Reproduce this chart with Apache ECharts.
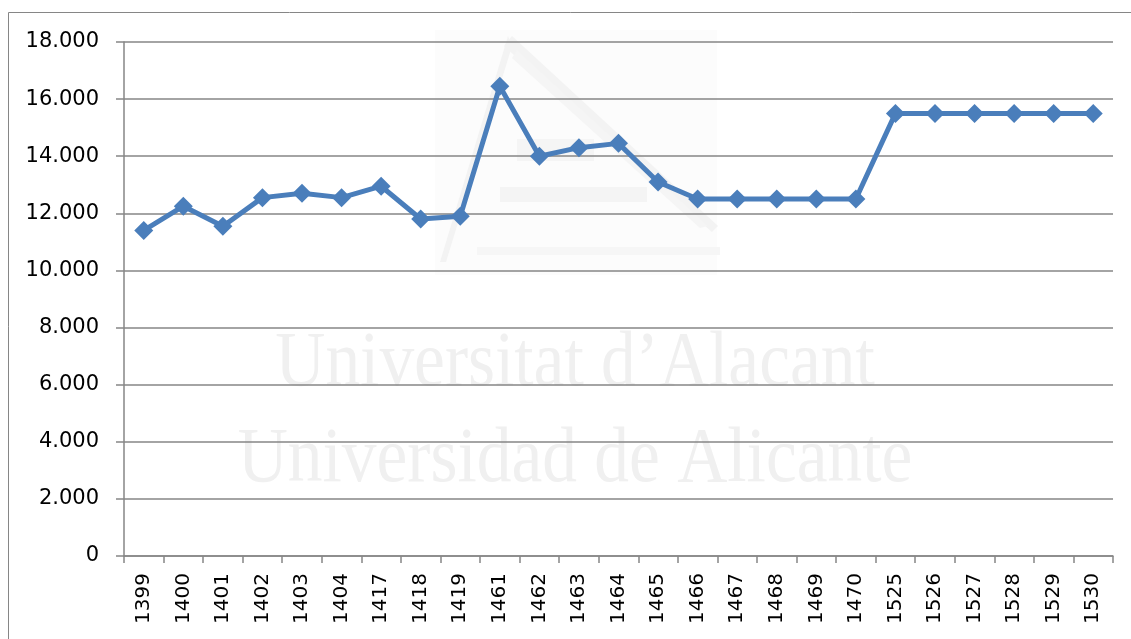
<!DOCTYPE html>
<html>
<head>
<meta charset="utf-8">
<script src="https://cdn.jsdelivr.net/npm/echarts@6/dist/echarts.min.js"></script>
<style>
  html, body { margin: 0; padding: 0; background: #fff; }
  #chart { width: 1131px; height: 639px; }
</style>
</head>
<body>
<div id="chart"></div>
<script>
// 年份
const years = ['1399', '1400', '1401', '1402', '1403', '1404', '1417', '1418', '1419', '1461',
  '1462', '1463', '1464', '1465', '1466', '1467', '1468', '1469', '1470', '1525',
  '1526', '1527', '1528', '1529', '1530'];
// 数值
const values = [11400, 12250, 11550, 12550, 12700, 12550, 12950, 11800, 11900, 16450,
  14000, 14300, 14450, 13100, 12500, 12500, 12500, 12500, 12500, 15500,
  15500, 15500, 15500, 15500, 15500];
// 纵轴
const yMin = 0;
const yMax = 18000;
const yStep = 2000;

// 千位分隔 (西班牙格式)
function fmt(v) {
  return String(v).replace(/\B(?=(\d{3})+(?!\d))/g, '.');
}

// 水印文字
function mark(text, y) {
  return {
    type: 'group', x: 575, y: y, scaleX: 0.89, z: -7,
    children: [{
      type: 'text', x: 0, y: 0,
      style: { text: text, font: '78px "Liberation Serif"', fill: '#f0f0f0',
        align: 'center', verticalAlign: 'bottom' }
    }]
  };
}

const chart = echarts.init(document.getElementById('chart'));
const gray = '#868686';

chart.setOption({
  animation: false,
  backgroundColor: '#fff',
  graphic: [
    // 外框
    { type: 'rect', z: -10, shape: { x: 8.5, y: 12.5, width: 1300, height: 800 },
      style: { fill: 'none', stroke: gray, lineWidth: 1 } },
    // 水印标志
    { type: 'rect', z: -9, shape: { x: 435, y: 30, width: 282, height: 245 },
      style: { fill: '#fcfcfc' } },
    { type: 'polygon', z: -8, shape: { points: [[508, 36], [440, 262], [446, 262], [512, 46]] },
      style: { fill: '#f3f3f3' } },
    { type: 'polygon', z: -8, shape: { points: [[512, 36], [504, 46], [712, 232], [718, 226]] },
      style: { fill: '#f3f3f3' } },
    { type: 'polygon', z: -8, shape: { points: [[517, 50], [512, 58], [700, 228], [708, 226]] },
      style: { fill: '#f5f5f5' } },
    { type: 'rect', z: -8, shape: { x: 517, y: 139, width: 77, height: 22 },
      style: { fill: '#f5f5f5' } },
    { type: 'rect', z: -8, shape: { x: 500, y: 187, width: 147, height: 15 },
      style: { fill: '#f4f4f4' } },
    { type: 'rect', z: -8, shape: { x: 477, y: 247, width: 243, height: 8 },
      style: { fill: '#f6f6f6' } },
    mark('Universitat d\u2019Alacant', 404),
    mark('Universidad de Alicante', 500)
  ],
  grid: { left: 124, right: 18, top: 42, bottom: 83, containLabel: false },
  xAxis: {
    type: 'category',
    data: years,
    boundaryGap: true,
    axisLine: { lineStyle: { color: gray, width: 1.5 } },
    axisTick: { show: true, length: 7, alignWithLabel: false, lineStyle: { color: gray, width: 1.5 } },
    axisLabel: { rotate: 90, margin: 17, color: '#000', fontFamily: 'DejaVu Sans', fontSize: 20, interval: 0 },
    splitLine: { show: false }
  },
  yAxis: {
    type: 'value',
    min: yMin,
    max: yMax,
    interval: yStep,
    axisLine: { show: true, lineStyle: { color: gray, width: 1.5 } },
    axisTick: { show: true, length: 8, lineStyle: { color: gray, width: 1.5 } },
    axisLabel: { margin: 25, color: '#000', fontFamily: 'DejaVu Sans', fontSize: 21, formatter: fmt },
    splitLine: { show: true, lineStyle: { color: gray, width: 1.5 } }
  },
  series: [{
    type: 'line',
    data: values,
    symbol: 'diamond',
    symbolSize: [19, 19],
    lineStyle: { color: '#4A7EBB', width: 5 },
    itemStyle: { color: '#4A7EBB' },
    z: 5
  }]
});
</script>
</body>
</html>
